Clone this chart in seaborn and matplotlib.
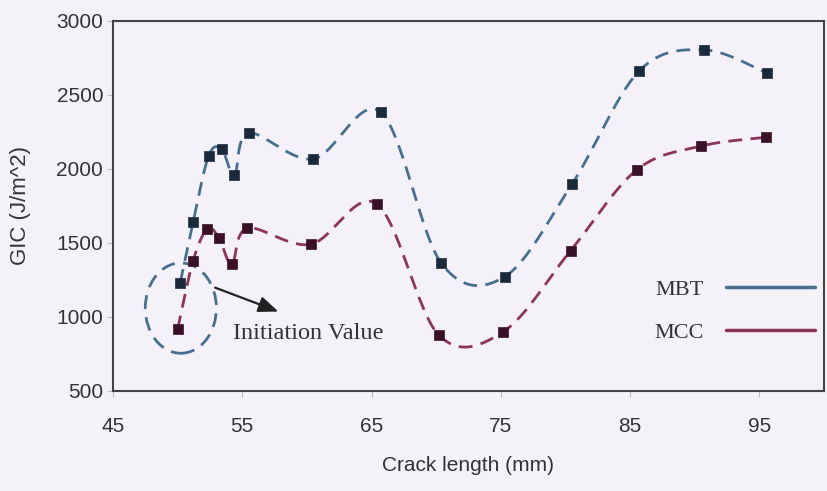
import numpy as np
import pandas as pd
import matplotlib
matplotlib.use("Agg")
import matplotlib.pyplot as plt
from matplotlib.patches import Ellipse
from matplotlib.lines import Line2D
import seaborn as sns

# ---- data ----
crack_mbt = [50.2, 51.2, 52.4, 53.4, 54.4, 55.5, 60.5, 65.7, 70.4, 75.3, 80.5, 85.7, 90.7, 95.6]
gic_mbt = [1232, 1642, 2088, 2135, 1959, 2243, 2068, 2385, 1363, 1272, 1897, 2662, 2805, 2648]
crack_mcc = [50.0, 51.2, 52.3, 53.2, 54.2, 55.4, 60.3, 65.4, 70.2, 75.2, 80.4, 85.5, 90.5, 95.5]
gic_mcc = [917, 1380, 1595, 1534, 1358, 1600, 1491, 1764, 878, 901, 1448, 1993, 2155, 2214]
series_names = ["MBT", "MCC"]
line_colors = ["#47708e", "#8c3558"]
marker_colors = ["#1b2a3b", "#3a1027"]
x_ticks = [45, 55, 65, 75, 85, 95]
y_ticks = [500, 1000, 1500, 2000, 2500, 3000]

def smooth_curve(xs, ys, n=30):
    """Bezier smoothing through points (Excel-style 'smoothed line')."""
    P = np.column_stack([xs, ys]).astype(float)
    out = []
    for i in range(len(P) - 1):
        p0 = P[i - 1] if i > 0 else P[i]
        p1 = P[i]
        p2 = P[i + 1]
        p3 = P[i + 2] if i + 2 < len(P) else P[i + 1]
        c1 = p1 + (p2 - p0) / 6.0
        c2 = p2 - (p3 - p1) / 6.0
        t = np.linspace(0, 1, n, endpoint=(i == len(P) - 2))[:, None]
        seg = ((1 - t) ** 3) * p1 + 3 * ((1 - t) ** 2) * t * c1 + 3 * (1 - t) * t ** 2 * c2 + t ** 3 * p2
        out.append(seg)
    out = np.vstack(out)
    return out[:, 0], out[:, 1]

sns.set_theme(style="white")
plt.rcParams["font.family"] = ["Liberation Sans", "DejaVu Sans"]

bg = "#f4f1f8"
fig = plt.figure(figsize=(8.27, 4.91), dpi=100, facecolor=bg)
ax = fig.add_axes([0.1366, 0.2037, 0.8598, 0.7536])
ax.set_facecolor(bg)

for name, xs, ys, lc, mc in zip(series_names, [crack_mbt, crack_mcc], [gic_mbt, gic_mcc],
                                 line_colors, marker_colors):
    cx, cy = smooth_curve(xs, ys)
    ax.plot(cx, cy, color=lc, lw=2.0, linestyle=(0, (5, 3)), zorder=2)
    df = pd.DataFrame({"x": xs, "y": ys})
    sns.scatterplot(data=df, x="x", y="y", marker="s", s=55, color=mc,
                    edgecolor=mc, linewidth=0.5, ax=ax, zorder=3)

ax.set_xlim(45, 100)
ax.set_ylim(500, 3000)
ax.set_xticks(x_ticks)
ax.set_yticks(y_ticks)
ax.tick_params(axis="both", labelsize=15, length=4, width=0.8,
               direction="out", bottom=True, left=True)
ax.tick_params(axis="x", pad=15, color="#bbbbbb")
ax.tick_params(axis="y", pad=3, color="#bbbbbb")
for lab in ax.get_xticklabels() + ax.get_yticklabels():
    lab.set_color("#333333")

ax.set_xlabel("Crack length (mm)", fontsize=15, color="#333333", labelpad=14)
ax.set_ylabel("GIC (J/m^2)", fontsize=16, color="#333333", labelpad=18)
for s in ax.spines.values():
    s.set_visible(True)
    s.set_color("#444444")
    s.set_linewidth(1.5)

# annotation ellipse, arrow and text
ell = Ellipse((50.25, 1060), width=5.5, height=610, fill=False, edgecolor=line_colors[0],
              lw=2.0, linestyle=(0, (5, 3)), zorder=2)
ax.add_patch(ell)
ax.annotate("", xy=(58.0, 1030), xytext=(52.7, 1205),
            arrowprops=dict(arrowstyle="-|>,head_length=1.0,head_width=0.4", color="#222222", lw=1.6))
ax.text(54.3, 890, "Initiation Value", fontsize=17.5, family=["Liberation Serif", "DejaVu Serif"],
        color="#333333", va="center", ha="left")

handles = [Line2D([0], [0], color=line_colors[0], lw=2.5),
           Line2D([0], [0], color=line_colors[1], lw=2.5)]
leg = ax.legend(handles, series_names, loc="center right", bbox_to_anchor=(0.987, 0.216),
                borderaxespad=0, borderpad=0, frameon=False, markerfirst=False,
                handlelength=4.0, handletextpad=1.0, labelspacing=1.0,
                prop={"family": ["Liberation Serif"], "size": 16})
for t in leg.get_texts():
    t.set_color("#333333")

fig.savefig("out.png", dpi=100, facecolor=bg)
